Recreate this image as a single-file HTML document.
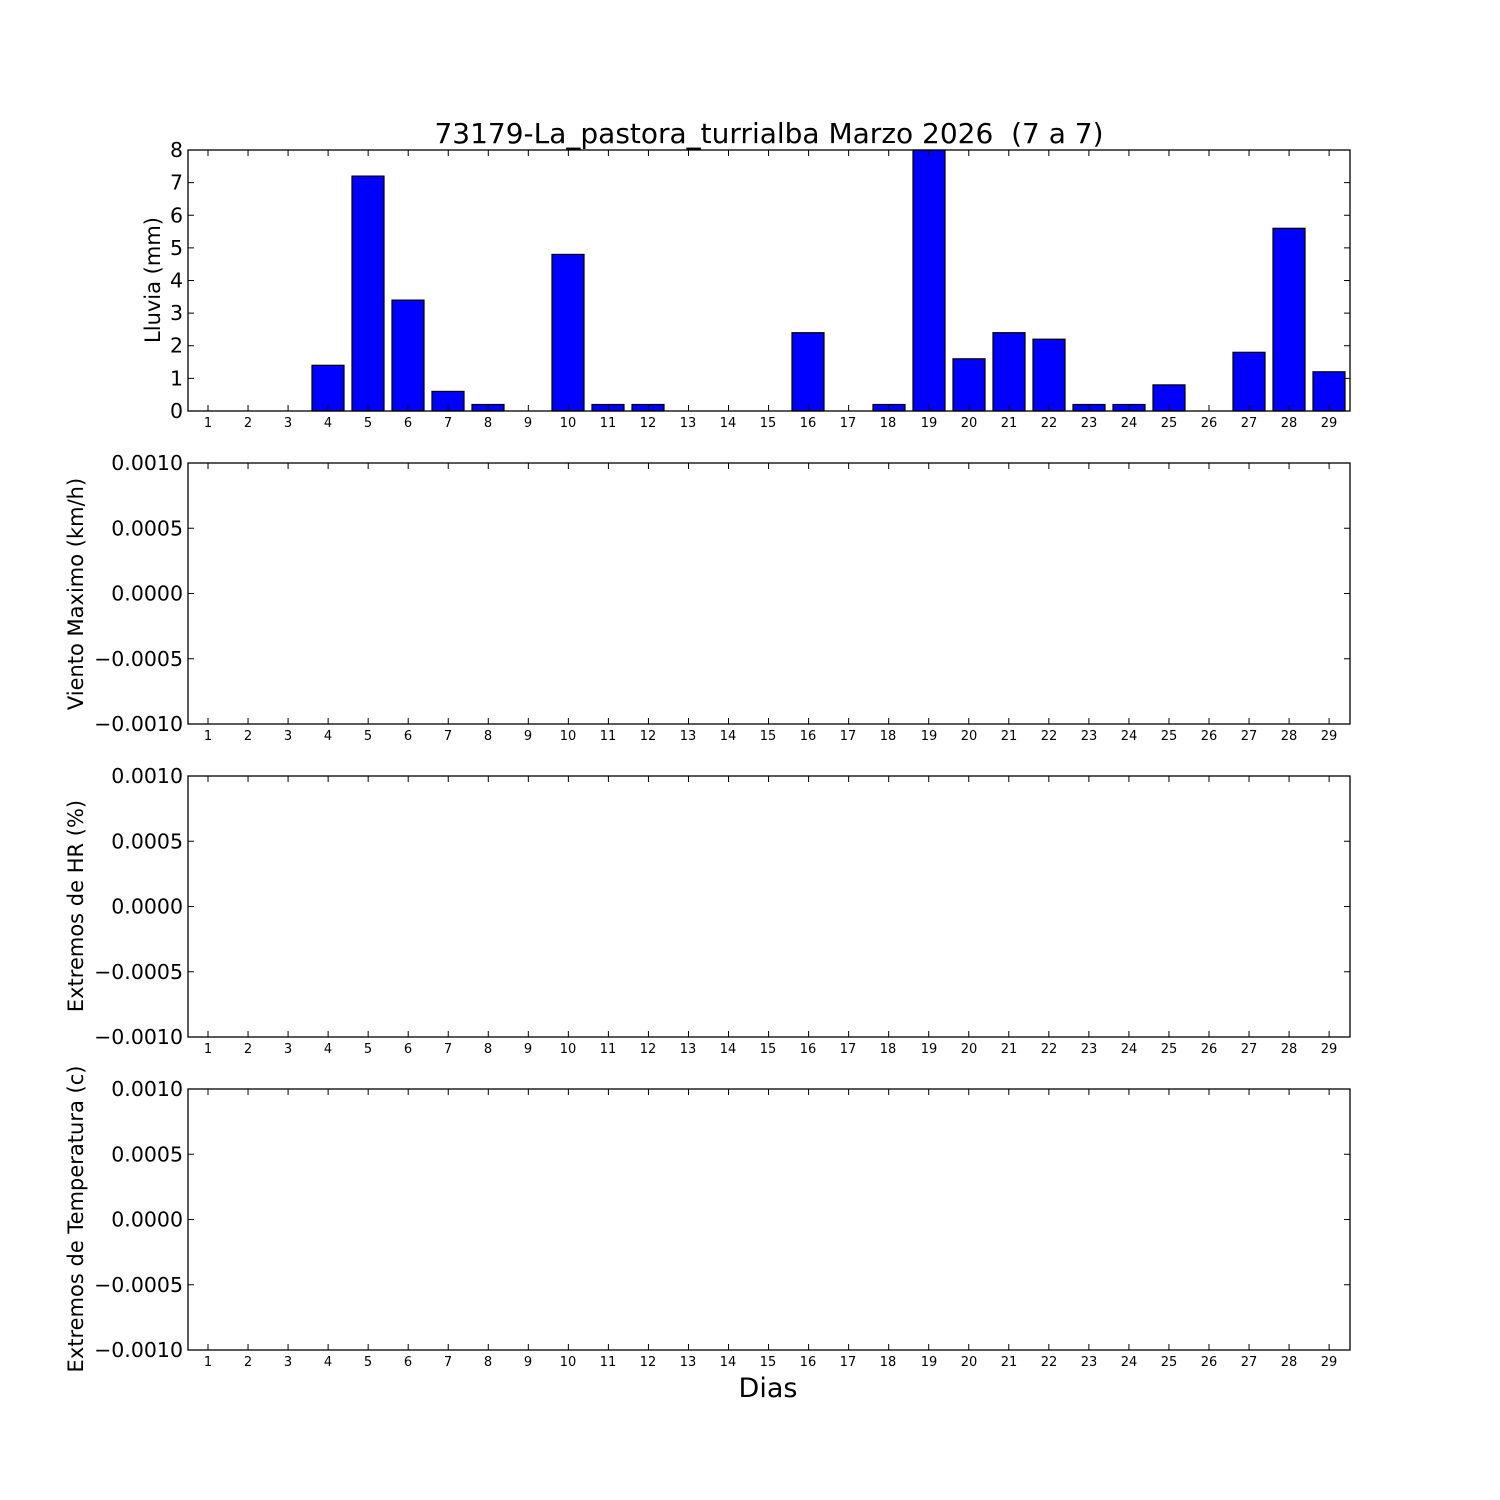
<!DOCTYPE html>
<html><head><meta charset="utf-8"><style>body{margin:0;background:#fff}svg{display:block}text{font-family:"DejaVu Sans","Liberation Sans",sans-serif;fill:#000}</style></head><body>
<svg width="1500" height="1500" viewBox="0 0 1500 1500" xmlns="http://www.w3.org/2000/svg">
<rect width="1500" height="1500" fill="#fff"/>
<text x="769" y="143" font-size="28" text-anchor="middle">73179-La_pastora_turrialba Marzo 2026&#160; (7 a 7)</text>
<g fill="#0000ff" stroke="#000" stroke-width="1.2">
<rect x="312" y="365.3" width="32" height="45.7"/>
<rect x="352" y="176.1" width="32" height="234.9"/>
<rect x="392" y="300.1" width="32" height="110.9"/>
<rect x="432" y="391.4" width="32" height="19.6"/>
<rect x="472" y="404.5" width="32" height="6.5"/>
<rect x="552" y="254.4" width="32" height="156.6"/>
<rect x="592" y="404.5" width="32" height="6.5"/>
<rect x="632" y="404.5" width="32" height="6.5"/>
<rect x="792" y="332.7" width="32" height="78.3"/>
<rect x="873" y="404.5" width="32" height="6.5"/>
<rect x="913" y="150" width="32" height="261"/>
<rect x="953" y="358.8" width="32" height="52.2"/>
<rect x="993" y="332.7" width="32" height="78.3"/>
<rect x="1033" y="339.2" width="32" height="71.8"/>
<rect x="1073" y="404.5" width="32" height="6.5"/>
<rect x="1113" y="404.5" width="32" height="6.5"/>
<rect x="1153" y="384.9" width="32" height="26.1"/>
<rect x="1233" y="352.3" width="32" height="58.7"/>
<rect x="1273" y="228.3" width="32" height="182.7"/>
<rect x="1313" y="371.8" width="32" height="39.2"/>
</g>
<g fill="none" stroke="#000" stroke-width="1.3">
<rect x="188" y="150" width="1162" height="261"/>
<rect x="188" y="463" width="1162" height="261"/>
<rect x="188" y="776" width="1162" height="261"/>
<rect x="188" y="1089" width="1162" height="261"/>
</g>
<g stroke="#000" stroke-width="6" stroke-dasharray="1 39.04">
<line x1="207.5" x2="1331" y1="153" y2="153"/><line x1="207.5" x2="1331" y1="408" y2="408"/>
<line x1="207.5" x2="1331" y1="466" y2="466"/><line x1="207.5" x2="1331" y1="721" y2="721"/>
<line x1="207.5" x2="1331" y1="779" y2="779"/><line x1="207.5" x2="1331" y1="1034" y2="1034"/>
<line x1="207.5" x2="1331" y1="1092" y2="1092"/><line x1="207.5" x2="1331" y1="1347" y2="1347"/>
</g>
<g stroke="#000" stroke-width="1">
<path d="M188 378.4h6M188 345.7h6M188 313.1h6M188 280.5h6M188 247.9h6M188 215.3h6M188 182.6h6M1350 378.4h-6M1350 345.7h-6M1350 313.1h-6M1350 280.5h-6M1350 247.9h-6M1350 215.3h-6M1350 182.6h-6"/>
<path d="M188 528.3h6M188 593.5h6M188 658.8h6M1350 528.3h-6M1350 593.5h-6M1350 658.8h-6"/>
<path d="M188 841.3h6M188 906.5h6M188 971.8h6M1350 841.3h-6M1350 906.5h-6M1350 971.8h-6"/>
<path d="M188 1154.3h6M188 1219.5h6M188 1284.8h6M1350 1154.3h-6M1350 1219.5h-6M1350 1284.8h-6"/>
</g>
<g font-size="20.5" text-anchor="end">
<text x="183" y="418">0</text><text x="183" y="385.4">1</text><text x="183" y="352.7">2</text><text x="183" y="320.1">3</text><text x="183" y="287.5">4</text><text x="183" y="254.9">5</text><text x="183" y="222.3">6</text><text x="183" y="189.6">7</text><text x="183" y="157">8</text>
<text x="183" y="470">0.0010</text><text x="183" y="535.3">0.0005</text><text x="183" y="600.5">0.0000</text><text x="183" y="665.8">−0.0005</text><text x="183" y="731">−0.0010</text>
<text x="183" y="783">0.0010</text><text x="183" y="848.3">0.0005</text><text x="183" y="913.5">0.0000</text><text x="183" y="978.8">−0.0005</text><text x="183" y="1044">−0.0010</text>
<text x="183" y="1096">0.0010</text><text x="183" y="1161.3">0.0005</text><text x="183" y="1226.5">0.0000</text><text x="183" y="1291.8">−0.0005</text><text x="183" y="1357">−0.0010</text>
</g>
<g font-size="21" text-anchor="middle">
<text transform="translate(160,280) rotate(-90)">Lluvia (mm)</text>
<text transform="translate(83,594) rotate(-90)">Viento Maximo (km/h)</text>
<text transform="translate(83,906) rotate(-90)">Extremos de HR (%)</text>
<text transform="translate(83,1219) rotate(-90)">Extremos de Temperatura (c)</text>
</g>
<text x="768" y="1397" font-size="27" text-anchor="middle">Dias</text>
<g font-size="13" text-anchor="middle">
<text y="427"><tspan x="208">1</tspan><tspan x="248">2</tspan><tspan x="288">3</tspan><tspan x="328">4</tspan><tspan x="368">5</tspan><tspan x="408">6</tspan><tspan x="448">7</tspan><tspan x="488">8</tspan><tspan x="528">9</tspan><tspan x="568">10</tspan><tspan x="608">11</tspan><tspan x="648">12</tspan><tspan x="688">13</tspan><tspan x="728">14</tspan><tspan x="768">15</tspan><tspan x="808">16</tspan><tspan x="848">17</tspan><tspan x="888">18</tspan><tspan x="929">19</tspan><tspan x="969">20</tspan><tspan x="1009">21</tspan><tspan x="1049">22</tspan><tspan x="1089">23</tspan><tspan x="1129">24</tspan><tspan x="1169">25</tspan><tspan x="1209">26</tspan><tspan x="1249">27</tspan><tspan x="1289">28</tspan><tspan x="1329">29</tspan></text>
<text y="740"><tspan x="208">1</tspan><tspan x="248">2</tspan><tspan x="288">3</tspan><tspan x="328">4</tspan><tspan x="368">5</tspan><tspan x="408">6</tspan><tspan x="448">7</tspan><tspan x="488">8</tspan><tspan x="528">9</tspan><tspan x="568">10</tspan><tspan x="608">11</tspan><tspan x="648">12</tspan><tspan x="688">13</tspan><tspan x="728">14</tspan><tspan x="768">15</tspan><tspan x="808">16</tspan><tspan x="848">17</tspan><tspan x="888">18</tspan><tspan x="929">19</tspan><tspan x="969">20</tspan><tspan x="1009">21</tspan><tspan x="1049">22</tspan><tspan x="1089">23</tspan><tspan x="1129">24</tspan><tspan x="1169">25</tspan><tspan x="1209">26</tspan><tspan x="1249">27</tspan><tspan x="1289">28</tspan><tspan x="1329">29</tspan></text>
<text y="1053"><tspan x="208">1</tspan><tspan x="248">2</tspan><tspan x="288">3</tspan><tspan x="328">4</tspan><tspan x="368">5</tspan><tspan x="408">6</tspan><tspan x="448">7</tspan><tspan x="488">8</tspan><tspan x="528">9</tspan><tspan x="568">10</tspan><tspan x="608">11</tspan><tspan x="648">12</tspan><tspan x="688">13</tspan><tspan x="728">14</tspan><tspan x="768">15</tspan><tspan x="808">16</tspan><tspan x="848">17</tspan><tspan x="888">18</tspan><tspan x="929">19</tspan><tspan x="969">20</tspan><tspan x="1009">21</tspan><tspan x="1049">22</tspan><tspan x="1089">23</tspan><tspan x="1129">24</tspan><tspan x="1169">25</tspan><tspan x="1209">26</tspan><tspan x="1249">27</tspan><tspan x="1289">28</tspan><tspan x="1329">29</tspan></text>
<text y="1366"><tspan x="208">1</tspan><tspan x="248">2</tspan><tspan x="288">3</tspan><tspan x="328">4</tspan><tspan x="368">5</tspan><tspan x="408">6</tspan><tspan x="448">7</tspan><tspan x="488">8</tspan><tspan x="528">9</tspan><tspan x="568">10</tspan><tspan x="608">11</tspan><tspan x="648">12</tspan><tspan x="688">13</tspan><tspan x="728">14</tspan><tspan x="768">15</tspan><tspan x="808">16</tspan><tspan x="848">17</tspan><tspan x="888">18</tspan><tspan x="929">19</tspan><tspan x="969">20</tspan><tspan x="1009">21</tspan><tspan x="1049">22</tspan><tspan x="1089">23</tspan><tspan x="1129">24</tspan><tspan x="1169">25</tspan><tspan x="1209">26</tspan><tspan x="1249">27</tspan><tspan x="1289">28</tspan><tspan x="1329">29</tspan></text>
</g>
</svg>
</body></html>
